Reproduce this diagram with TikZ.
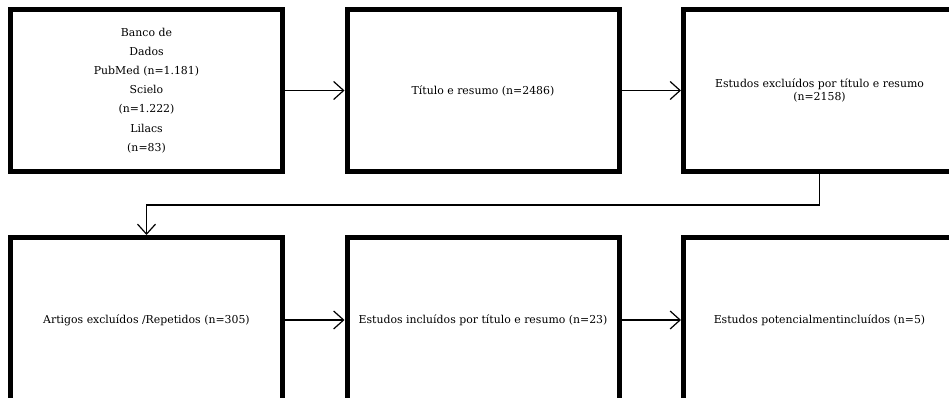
\documentclass[tikz,border=0pt]{standalone}
\usepackage{fontspec}
\setmainfont{DejaVu Serif}
\usetikzlibrary{arrows.meta,positioning}

\begin{document}
\begin{tikzpicture}[-{Straight Barb[length=10pt,width=18pt]},line width=1.2pt,
                    node distance=61pt and 59.5pt,
                    box node/.style={rectangle,draw,line width=5pt,minimum width=272pt,
                      minimum height=162pt,align=center,inner sep=2pt,
                      font=\fontsize{10.9}{13.5}\selectfont},
                    low node/.style={box node,minimum height=165pt}]

  \useasboundingbox (0,0) rectangle (949pt,-398pt);
  \clip (0,0) rectangle (949pt,-398pt);

  \node[box node,font=\fontsize{10.9}{19.2}\selectfont] (1) at (146.5pt,-90.5pt)
    {Banco de\\Dados\\PubMed (n=1.181)\\Scielo\\(n=1.222)\\Lilacs\\(n=83)};
  \node[box node] (2) [right=of 1] {Título e resumo (n=2486)};
  \node[box node] (3) [right=of 2] {Estudos excluídos por título e resumo\\(n=2158)};

  \node[low node] (4) [below=of 1] {Artigos excluídos /Repetidos (n=305)};
  \node[low node] (5) [right=of 4] {Estudos incluídos por título e resumo (n=23)};
  \node[low node] (6) [right=of 5] {Estudos potencialmentincluídos (n=5)};

  \path
	(1) edge (2)
	(2) edge (3)
	(4) edge (5)
	(5) edge (6);

  \draw (3.south) -- ++(0,-31pt) -| (4.north);

\end{tikzpicture}
\end{document}
